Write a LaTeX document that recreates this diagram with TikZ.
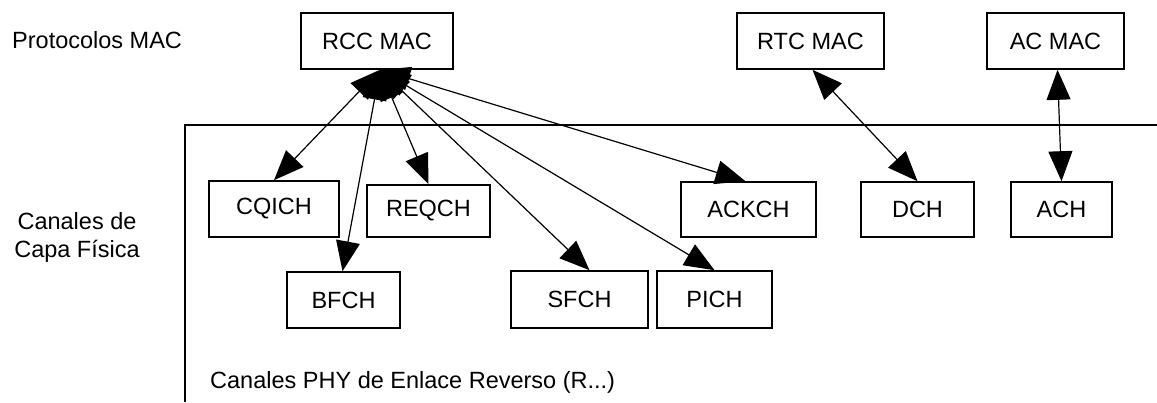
\documentclass[tikz,border=0pt]{standalone}
\usepackage{fontspec}
\setmainfont{Liberation Sans}
\usetikzlibrary{arrows.meta}

\tikzset{
  chbox/.style={draw, line width=1.6pt, minimum height=56pt, inner sep=0pt,
                font=\fontsize{23.5}{28}\selectfont},
  lbl/.style={font=\fontsize{23.5}{28}\selectfont, inner sep=0pt},
  link/.style={line width=1.2pt,
               {Triangle[length=30pt,width=24pt]}-{Triangle[length=30pt,width=24pt]}},
  frame/.style={line width=1.6pt}
}

\begin{document}
\begin{tikzpicture}[x=1pt, y=-1pt]
  \useasboundingbox (0,0) rectangle (1157,402);

  % layer frame of the reverse-link physical channels
  \coordinate (fb) at (185,402);
  \coordinate (fc) at (185,125);
  \coordinate (fr) at (1157,125);
  \draw[frame] (fb) -- (fc) -- (fr);

  % side labels
  \node[lbl, anchor=west] (proto) at (12,40) {Protocolos MAC};
  \node[lbl, align=center] (capa) at (77,237) {Canales de\\Capa Física};
  \node[lbl, anchor=west] (rev) at (210,382) {Canales PHY de Enlace Reverso (R...)};

  % MAC protocols
  \node[chbox, minimum width=152pt] (rcc) at (377,41) {RCC MAC};
  \node[chbox, minimum width=147pt] (rtc) at (810.5,41) {RTC MAC};
  \node[chbox, minimum width=137pt] (acmac) at (1055.5,41) {AC MAC};

  % physical channels, upper row
  \node[chbox, minimum width=130pt] (cqich) at (274,209) {CQICH};
  \node[chbox, minimum width=123pt, minimum height=52pt] (reqch) at (428.5,211) {REQCH};
  \node[chbox, minimum width=135pt, minimum height=55pt] (ackch) at (748.5,209.5) {ACKCH};
  \node[chbox, minimum width=113pt, minimum height=55pt] (dch) at (917.5,209.5) {DCH};
  \node[chbox, minimum width=101pt, minimum height=55pt] (ach) at (1061.5,209.5) {ACH};

  % physical channels, lower row
  \node[chbox, minimum width=113pt] (bfch) at (343.5,300) {BFCH};
  \node[chbox, minimum width=137pt, minimum height=57pt] (sfch) at (579.5,299.5) {SFCH};
  \node[chbox, minimum width=115pt, minimum height=57pt] (pich) at (714.5,299.5) {PICH};

  % connections
  \coordinate (rccs) at ([xshift=3pt]rcc.south);
  \draw[link] (rccs) -- (cqich.north);
  \draw[link] (rccs) -- ([xshift=-1pt]bfch.north);
  \draw[link] (rccs) -- (reqch.north);
  \draw[link] (rccs) -- ([xshift=10pt]sfch.north);
  \draw[link] (rccs) -- (pich.north);
  \draw[link] (rccs) -- ([xshift=-3pt]ackch.north);
  \draw[link] ([xshift=2pt]rtc.south) -- (dch.north);
  \draw[link] ([xshift=2pt]acmac.south) -- (ach.north);
\end{tikzpicture}
\end{document}
